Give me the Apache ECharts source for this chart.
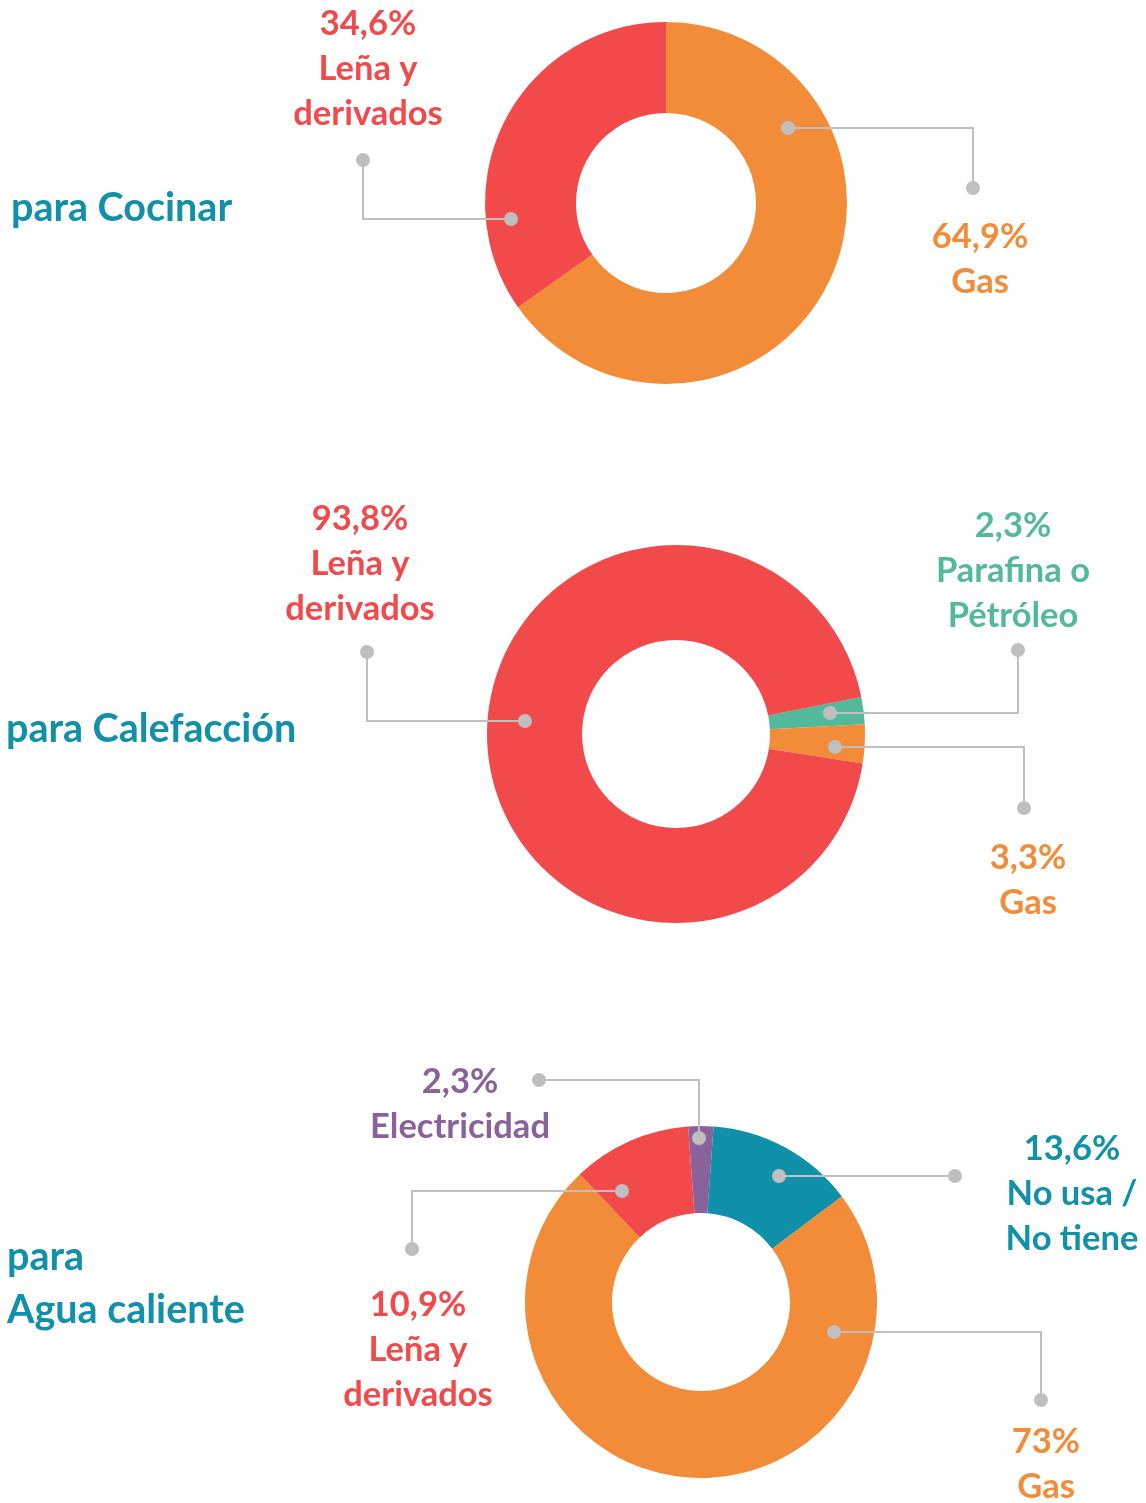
<!DOCTYPE html>
<html lang="es">
<head>
    <meta charset="UTF-8">
    <title>Fuentes de energía</title>
    <script src="https://cdn.jsdelivr.net/npm/echarts@6/dist/echarts.min.js"></script>
    <style>
        html, body { margin: 0; padding: 0; background: #fff; }
        #main { width: 1146px; height: 1503px; }
    </style>
</head>
<body>
<div id="main"></div>
<script>
    // datos
    const cocinarNames = ['Gas', 'Leña y\nderivados'];
    const cocinarValues = [64.9, 34.6];

    const calefNames = ['Parafina o\nPétróleo', 'Gas', 'Leña y\nderivados'];
    const calefValues = [2.3, 3.3, 93.8];

    const aguaNames = ['Electricidad', 'No usa /\nNo tiene', 'Gas', 'Leña y\nderivados'];
    const aguaValues = [2.3, 13.6, 73, 10.9];

    const titles = ['para Cocinar', 'para Calefacción', 'para\nAgua caliente'];

    // colores
    const RED = '#F2494B', ORANGE = '#F28C38', GREEN = '#52BA9B', TEAL = '#1190AA', PURPLE = '#8A629B';
    const GREY = '#BFBFBF';

    // posición de las llamadas (punto interior, codo, punto exterior, texto)
    const cocinarCallouts = [
        { inner: [788, 128], elbow: [973, 128], outer: [973, 188], text: [980, 259] },
        { inner: [511, 219], elbow: [363, 219], outer: [363, 160], text: [368, 69] }
    ];
    const calefCallouts = [
        { inner: [830, 713], elbow: [1018, 713], outer: [1018, 650], text: [1013, 571] },
        { inner: [835, 747], elbow: [1024, 747], outer: [1024, 808], text: [1028, 880] },
        { inner: [525, 721], elbow: [367, 721], outer: [367, 652], text: [360, 564] }
    ];
    const aguaCallouts = [
        { inner: [699, 1138], elbow: [699, 1080], outer: [539, 1080], text: [460, 1104] },
        { inner: [779, 1176], elbow: [870, 1176], outer: [955, 1176], text: [1072, 1194] },
        { inner: [834, 1332], elbow: [1041, 1332], outer: [1041, 1400], text: [1046, 1464] },
        { inner: [622, 1191], elbow: [412, 1191], outer: [412, 1249], text: [418, 1350] }
    ];

    const FONT = 'Lato';

    function fmt(v) {
        return String(v).replace('.', ',') + '%';
    }

    function buildData(names, values, colors) {
        return values.map(function (v, i) {
            return {
                name: names[i],
                value: v,
                itemStyle: { color: colors[i] },
                label: { color: colors[i] }
            };
        });
    }

    function makeLayout(callouts) {
        return function (params) {
            const c = callouts[params.dataIndex];
            return {
                x: c.text[0],
                y: c.text[1],
                align: 'center',
                verticalAlign: 'middle'
            };
        };
    }

    function makePie(center, radius, startAngle, data, callouts) {
        return {
            type: 'pie',
            center: center,
            radius: radius,
            startAngle: startAngle,
            clockwise: true,
            avoidLabelOverlap: false,
            silent: true,
            data: data,
            label: {
                show: true,
                position: 'outside',
                fontFamily: FONT,
                fontWeight: 'bold',
                fontSize: 34.5,
                lineHeight: 45,
                align: 'center',
                formatter: function (p) {
                    return fmt(p.value) + '\n' + p.name;
                }
            },
            labelLine: { show: false },
            labelLayout: makeLayout(callouts)
        };
    }

    // líneas guía y puntos, dibujados encima de los sectores
    function callouts(list) {
        let out = [];
        list.forEach(function (c) {
            out.push({
                type: 'polyline',
                shape: { points: [c.inner, c.elbow, c.outer] },
                style: { stroke: GREY, lineWidth: 2, fill: null },
                z: 100
            });
            [c.inner, c.outer].forEach(function (p) {
                out.push({
                    type: 'circle',
                    shape: { cx: p[0], cy: p[1], r: 7 },
                    style: { fill: GREY },
                    z: 101
                });
            });
        });
        return out;
    }

    const myChart = echarts.init(document.getElementById('main'));

    const titleStyle = {
        color: TEAL,
        fontFamily: FONT,
        fontWeight: 'bold',
        fontSize: 39.5,
        lineHeight: 53
    };

    const option = {
        animation: false,
        title: [
            { text: titles[0], left: 11, top: 182, padding: 0, textStyle: titleStyle },
            { text: titles[1], left: 6, top: 703, padding: 0, textStyle: titleStyle },
            { text: titles[2], left: 7, top: 1231, padding: 0, textStyle: titleStyle }
        ],
        series: [
            makePie([666, 203], [90, 181], 90, buildData(cocinarNames, cocinarValues, [ORANGE, RED]), cocinarCallouts),
            makePie([676, 734], [94, 189], 11.3, buildData(calefNames, calefValues, [GREEN, ORANGE, RED]), calefCallouts),
            makePie([701, 1302], [89, 176], 94.2, buildData(aguaNames, aguaValues, [PURPLE, TEAL, ORANGE, RED]), aguaCallouts)
        ],
        graphic: callouts(cocinarCallouts).concat(callouts(calefCallouts), callouts(aguaCallouts))
    };

    myChart.setOption(option);
</script>
</body>
</html>
